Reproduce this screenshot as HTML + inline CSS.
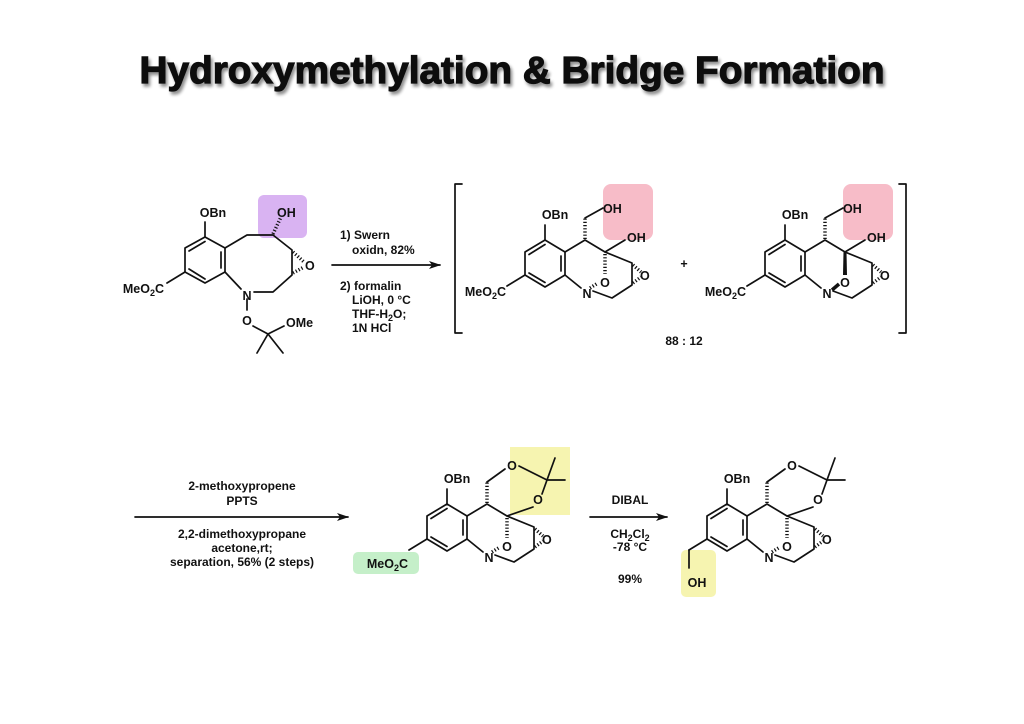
<!DOCTYPE html>
<html><head><meta charset="utf-8"><style>
html,body{margin:0;padding:0;background:#fff;}
svg{display:block;}
text{font-family:"Liberation Sans",Arial,sans-serif;font-weight:bold;fill:#111;}
.l{stroke:#111;stroke-width:1.7;fill:none;stroke-linecap:round;stroke-linejoin:round;}
.h{stroke:#111;stroke-width:3.5;stroke-dasharray:1.2 2;fill:none;}
.t{font-size:12.5px;}
.r{font-size:12px;}
</style></head><body>
<svg width="1024" height="724" viewBox="0 0 1024 724" xmlns="http://www.w3.org/2000/svg">
<defs>
<filter id="sh" x="-5%" y="-20%" width="110%" height="150%"><feGaussianBlur in="SourceAlpha" stdDeviation="1.5"/><feOffset dx="2" dy="3"/><feComponentTransfer><feFuncA type="linear" slope="0.45"/></feComponentTransfer><feMerge><feMergeNode/><feMergeNode in="SourceGraphic"/></feMerge></filter>
<marker id="ar" markerWidth="12" markerHeight="8" refX="11" refY="4" orient="auto" markerUnits="userSpaceOnUse"><path d="M0,0 L12,4 L0,8 L3,4 Z" fill="#111"/></marker>
<g id="core">
<path class="l" d="M-20,-12 L0,0 L0,23 L-20,35 L-40,23 L-40,0 Z"/>
<path class="l" d="M-36,2.5 L-20,-7.5 M-4,4 L-4,19 M-20,30.5 L-36,21"/>
<path class="l" d="M-40,23 L-58,34 M-20,-12 L-20,-27 M0,0 L20,-12 L40,0 L67,11 L67,33 L47,46 L28,39 M0,23 L16,36"/>
<path class="h" d="M68,13 L76,20 M68,31 L76,25"/>
</g>
</defs>

<text x="512" y="83" text-anchor="middle" font-size="38" stroke="#111" stroke-width="1.2" textLength="745" lengthAdjust="spacingAndGlyphs" filter="url(#sh)">Hydroxymethylation &amp; Bridge Formation</text>

<rect x="258" y="195" width="49" height="43" rx="6" fill="#d9b3f2"/>
<rect x="603" y="184" width="50" height="56" rx="8" fill="#f7bcc8"/>
<rect x="843" y="184" width="50" height="56" rx="8" fill="#f7bcc8"/>
<rect x="510" y="447" width="60" height="68" fill="#f6f4b0"/>
<rect x="353" y="552" width="66" height="22" rx="5" fill="#c5efc9"/>
<rect x="681" y="550" width="35" height="47" rx="5" fill="#f6f4b0"/>

<g>
<path class="l" d="M205,237 L225,248 L225,272 L205,283 L185,272 L185,248 Z"/>
<path class="l" d="M189,251 L205,241.5 M221,252 L221,268 M205,279 L189,269"/>
<path class="l" d="M185,272 L167,283 M205,237 L205,222 M225,248 L247,235 L273,235 L292,250 L292,275 L273,292 L254,292 M225,272 L241,289 M247,299 L247,310 M253,326 L268,334 L284,326 M268,334 L257,353 M268,334 L283,353"/>
<path class="h" d="M273,234 L281,217 M293,252 L304,262 M293,273 L304,267"/>
<text class="t" x="213" y="217" text-anchor="middle">OBn</text>
<text class="t" x="164" y="293" text-anchor="end">MeO<tspan font-size="9" dy="3">2</tspan><tspan dy="-3">C</tspan></text>
<text class="t" x="277" y="217">OH</text>
<text class="t" x="305" y="270">O</text>
<text class="t" x="247" y="300" text-anchor="middle">N</text>
<text class="t" x="247" y="325" text-anchor="middle">O</text>
<text class="t" x="286" y="327">OMe</text>
</g>

<line class="l" x1="332" y1="265" x2="440" y2="265" marker-end="url(#ar)"/>
<text class="r" x="340" y="239">1) Swern</text>
<text class="r" x="352" y="254">oxidn, 82%</text>
<text class="r" x="340" y="290">2) formalin</text>
<text class="r" x="352" y="304">LiOH, 0 °C</text>
<text class="r" x="352" y="318">THF-H<tspan font-size="9" dy="3">2</tspan><tspan dy="-3">O;</tspan></text>
<text class="r" x="352" y="332">1N HCl</text>

<path class="l" d="M462,184 L455,184 L455,333 L462,333 M899,184 L906,184 L906,333 L899,333"/>
<text class="t" x="684" y="268" text-anchor="middle">+</text>
<text class="r" x="684" y="345" text-anchor="middle">88 : 12</text>

<g transform="translate(565,252)">
<use href="#core"/>
<path class="h" d="M20,-13 L20,-34 M40,2 L40,22 M25,36 L33,31"/>
<path class="l" d="M20,-34 L38,-44 M40,0 L60,-12"/>
<text class="t" x="-10" y="-33" text-anchor="middle">OBn</text>
<text class="t" x="-59" y="44" text-anchor="end">MeO<tspan font-size="9" dy="3">2</tspan><tspan dy="-3">C</tspan></text>
<text class="t" x="38" y="-39">OH</text>
<text class="t" x="62" y="-10">OH</text>
<text class="t" x="22" y="46" text-anchor="middle">N</text>
<text class="t" x="40" y="35" text-anchor="middle">O</text>
<text class="t" x="75" y="28">O</text>
</g>

<g transform="translate(805,252)">
<use href="#core"/>
<path class="h" d="M20,-13 L20,-34"/>
<path class="l" d="M20,-34 L38,-44 M40,0 L60,-12"/>
<path d="M38.5,0 L41.5,0 L42,23 L38,23 Z" fill="#111"/>
<path d="M27,38 L34,32" stroke="#111" stroke-width="3.5"/>
<text class="t" x="-10" y="-33" text-anchor="middle">OBn</text>
<text class="t" x="-59" y="44" text-anchor="end">MeO<tspan font-size="9" dy="3">2</tspan><tspan dy="-3">C</tspan></text>
<text class="t" x="38" y="-39">OH</text>
<text class="t" x="62" y="-10">OH</text>
<text class="t" x="22" y="46" text-anchor="middle">N</text>
<text class="t" x="40" y="35" text-anchor="middle">O</text>
<text class="t" x="75" y="28">O</text>
</g>

<line class="l" x1="135" y1="517" x2="348" y2="517" marker-end="url(#ar)"/>
<text class="r" x="242" y="490" text-anchor="middle">2-methoxypropene</text>
<text class="r" x="242" y="505" text-anchor="middle">PPTS</text>
<text class="r" x="242" y="538" text-anchor="middle">2,2-dimethoxypropane</text>
<text class="r" x="242" y="552" text-anchor="middle">acetone,rt;</text>
<text class="r" x="242" y="566" text-anchor="middle">separation, 56% (2 steps)</text>

<g transform="translate(467,516)">
<use href="#core"/>
<path class="h" d="M20,-13 L20,-34 M40,2 L40,22 M25,36 L33,31"/>
<path class="l" d="M20,-34 L38,-47 M52,-50 L80,-36 L75,-22 M66,-9 L40,0 M80,-36 L88,-58 M80,-36 L98,-36"/>
<text class="t" x="-10" y="-33" text-anchor="middle">OBn</text>
<text class="t" x="-59" y="52" text-anchor="end">MeO<tspan font-size="9" dy="3">2</tspan><tspan dy="-3">C</tspan></text>
<text class="t" x="45" y="-46" text-anchor="middle">O</text>
<text class="t" x="71" y="-12" text-anchor="middle">O</text>
<text class="t" x="22" y="46" text-anchor="middle">N</text>
<text class="t" x="40" y="35" text-anchor="middle">O</text>
<text class="t" x="75" y="28">O</text>
</g>

<line class="l" x1="590" y1="517" x2="667" y2="517" marker-end="url(#ar)"/>
<text class="r" x="630" y="504" text-anchor="middle">DIBAL</text>
<text class="r" x="630" y="538" text-anchor="middle">CH<tspan font-size="9" dy="3">2</tspan><tspan dy="-3">Cl</tspan><tspan font-size="9" dy="3">2</tspan></text>
<text class="r" x="630" y="551" text-anchor="middle">-78 °C</text>
<text class="r" x="630" y="583" text-anchor="middle">99%</text>

<g transform="translate(747,516)">
<use href="#core"/>
<path class="h" d="M20,-13 L20,-34 M40,2 L40,22 M25,36 L33,31"/>
<path class="l" d="M20,-34 L38,-47 M52,-50 L80,-36 L75,-22 M66,-9 L40,0 M80,-36 L88,-58 M80,-36 L98,-36 M-58,34 L-58,52"/>
<text class="t" x="-10" y="-33" text-anchor="middle">OBn</text>
<text class="t" x="-50" y="71" text-anchor="middle">OH</text>
<text class="t" x="45" y="-46" text-anchor="middle">O</text>
<text class="t" x="71" y="-12" text-anchor="middle">O</text>
<text class="t" x="22" y="46" text-anchor="middle">N</text>
<text class="t" x="40" y="35" text-anchor="middle">O</text>
<text class="t" x="75" y="28">O</text>
</g>
</svg>
</body></html>
